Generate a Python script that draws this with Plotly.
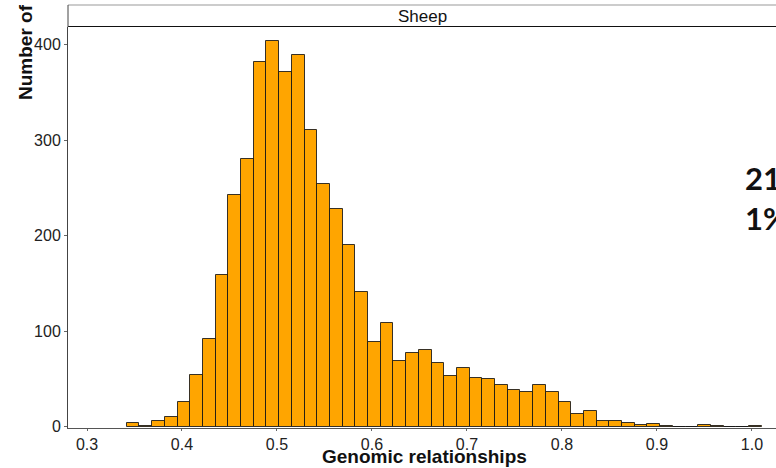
import plotly.graph_objects as go

# Histogram of genomic relationships (Sheep), 50 bins
bin_start = 0.3418
bin_width = 0.01337
counts = [4, 1, 6, 10, 26, 54, 92, 159, 243, 280,
          382, 404, 371, 389, 311, 254, 228, 190, 141, 89,
          108, 69, 77, 80, 67, 53, 61, 51, 50, 44,
          38, 36, 44, 36, 26, 13, 16, 6, 6, 4,
          2, 3, 1, 0, 0, 2, 1, 0, 0, 1]
x_ticks = [0.3, 0.4, 0.5, 0.6, 0.7, 0.8, 0.9, 1.0]
y_ticks = [0, 100, 200, 300, 400]
panel_label = "Sheep"
x_title = "Genomic relationships"
y_title = "Number of"
side_text = ["21", "1%"]

centers = [bin_start + bin_width * (i + 0.5) for i in range(len(counts))]

W, H = 776, 468
ml, mr, mt, mb = 68, 0, 27, 40
ph = H - mt - mb
pw = W - ml - mr

fig = go.Figure()
fig.add_trace(go.Bar(
    x=centers, y=counts, width=bin_width,
    marker=dict(color="#FFA500", line=dict(color="rgba(20,20,20,0.85)", width=1)),
    showlegend=False, hoverinfo="x+y"))

tickfont = dict(family="Liberation Sans, Arial", size=16, color="#222")
fig.update_layout(
    width=W, height=H,
    margin=dict(l=ml, r=mr, t=mt, b=mb),
    paper_bgcolor="white", plot_bgcolor="white",
    bargap=0,
    xaxis=dict(range=[0.28, 1.0253], tickvals=x_ticks, tickformat=".1f",
               ticks="outside", ticklen=2, tickcolor="#666", tickfont=tickfont,
               showline=True, linecolor="#555", linewidth=1, showgrid=False,
               zeroline=False),
    yaxis=dict(range=[-1.5, 418.5], tickvals=y_ticks,
               ticks="outside", ticklen=3, tickcolor="#666", tickfont=tickfont,
               showline=True, linecolor="#444", linewidth=1, showgrid=False,
               zeroline=False),
)

def py(pix):
    return (H - mb - pix) / ph

def px(pix):
    return (pix - ml) / pw

# strip
fig.add_shape(type="line", xref="paper", yref="paper", x0=0, x1=1.01, y0=py(5), y1=py(5),
              line=dict(color="#bbbbbb", width=1.5))
fig.add_shape(type="line", xref="paper", yref="paper", x0=0, x1=1.01, y0=py(26.5), y1=py(26.5),
              line=dict(color="#111", width=1.2))
fig.add_shape(type="line", xref="paper", yref="paper", x0=0, x1=0, y0=py(5), y1=py(27),
              line=dict(color="#444", width=1))
fig.add_annotation(xref="paper", yref="paper", x=0.5, y=py(16), text=panel_label,
                   showarrow=False, xanchor="center", yanchor="middle",
                   font=dict(family="Liberation Sans, Arial", size=17, color="#111"))

fig.add_annotation(xref="paper", yref="paper", x=px(424), y=py(456), text="<b>" + x_title + "</b>",
                   showarrow=False, xanchor="center", yanchor="middle",
                   font=dict(family="Liberation Sans, Arial", size=19, color="#111"))
fig.add_annotation(xref="paper", yref="paper", x=px(25), y=py(52), text="<b>" + y_title + "</b>",
                   textangle=-90, showarrow=False, xanchor="center", yanchor="middle",
                   font=dict(family="Liberation Sans, Arial", size=19, color="#111"))

for t, ypix in zip(side_text, [178, 218]):
    fig.add_annotation(xref="paper", yref="paper", x=px(743), y=py(ypix), text="<b>" + t + "</b>",
                       showarrow=False, xanchor="left", yanchor="middle",
                       font=dict(family="Lato, Noto Sans", size=31, color="#111"))

fig.write_html("out.html")
